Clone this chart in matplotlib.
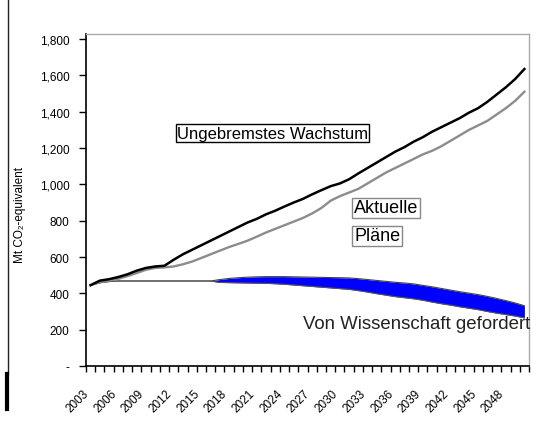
import numpy as np
import matplotlib
matplotlib.use('Agg')
import matplotlib.pyplot as plt
import matplotlib.transforms as mtransforms
from matplotlib.lines import Line2D

plt.rcParams['font.family'] = ['Liberation Sans', 'DejaVu Sans']

YEARS = list(range(2003, 2051))

# Ungebremstes Wachstum
WACHSTUM = [445, 470, 478, 490, 505, 525, 540, 548, 552, 585,
            615, 640, 665, 690, 715, 740, 765, 790, 810, 835,
            855, 878, 900, 920, 945, 968, 990, 1005, 1028, 1060,
            1090, 1120, 1150, 1180, 1205, 1235, 1260, 1290, 1315, 1340,
            1365, 1395, 1420, 1455, 1495, 1535, 1580, 1635]

# Aktuelle Plaene
PLAENE = [445, 462, 470, 480, 495, 512, 530, 540, 543, 548,
          560, 575, 595, 615, 635, 655, 672, 690, 712, 735,
          755, 775, 795, 815, 840, 870, 910, 935, 955, 975,
          1005, 1035, 1065, 1090, 1115, 1140, 1165, 1185, 1210, 1240,
          1270, 1300, 1325, 1350, 1385, 1420, 1460, 1510]

# Von Wissenschaft gefordert (upper / lower edge of band)
WISS_HIGH = [445, 458, 465, 468, 468, 468, 468, 468, 468, 468,
             468, 468, 468, 468, 476, 482, 486, 489, 491, 492,
             492, 492, 491, 490, 489, 488, 487, 486, 485, 481,
             476, 471, 466, 461, 457, 452, 444, 436, 427, 418,
             409, 401, 393, 383, 372, 360, 347, 332]
WISS_LOW = [445, 458, 465, 468, 468, 468, 468, 468, 468, 468,
            468, 468, 468, 468, 460, 459, 458, 457, 456, 455,
            453, 450, 446, 442, 438, 434, 430, 426, 422, 415,
            407, 398, 390, 382, 376, 370, 362, 352, 343, 335,
            326, 318, 310, 300, 291, 283, 275, 265]

Y_TICKS = [0, 200, 400, 600, 800, 1000, 1200, 1400, 1600, 1800]
Y_LABELS = ['-', '200', '400', '600', '800', '1,000', '1,200', '1,400', '1,600', '1,800']

NARROW = ['Liberation Sans Narrow', 'Liberation Sans', 'DejaVu Sans']

W, H = 536, 427
fig = plt.figure(figsize=(W / 100, H / 100), dpi=100)
ax = fig.add_axes([86 / W, 1 - 367 / H, (529 - 86) / W, (367 - 35) / H])

x = np.arange(len(YEARS))
ax.fill_between(x, WISS_LOW, WISS_HIGH, color='#0000ff', lw=0)
ax.plot(x, WISS_HIGH, color='#444444', lw=0.8)
ax.plot(x, WISS_LOW, color='#555555', lw=0.8)
ax.plot(x, PLAENE, color='#8c8c8c', lw=1.7)
ax.plot(x, WACHSTUM, color='#000000', lw=1.8)

ax.set_xlim(-0.5, len(YEARS) - 0.5)
ax.set_ylim(0, 1828)
ax.set_yticks(Y_TICKS)
ax.set_yticklabels(Y_LABELS, fontsize=8.5, family=NARROW)

ax.set_xticks(np.arange(len(YEARS) + 1) - 0.5, minor=True)
ax.set_xticks(x[::3])
ax.set_xticklabels([str(y) for y in YEARS[::3]], rotation=45, ha='right',
                   va='top', rotation_mode='anchor', fontsize=8.5, family=NARROW)
ax.tick_params(axis='x', which='major', length=0, pad=10)
ax.tick_params(axis='x', which='minor', length=4, width=1, direction='out')
ax.tick_params(axis='y', length=5, width=1, direction='out', pad=7)

shift = mtransforms.ScaledTranslation(-8 / 100, -7 / 100, fig.dpi_scale_trans)
for lbl in ax.get_xticklabels():
    lbl.set_transform(lbl.get_transform() + shift)

for side in ['left', 'bottom']:
    ax.spines[side].set_linewidth(1.2)
for side in ['top', 'right']:
    ax.spines[side].set_color('#aaaaaa')
    ax.spines[side].set_linewidth(1.0)

fig.text(20 / W, 1 - 215 / H, 'Mt CO\u2082-equivalent', fontsize=8.5,
         rotation=90, ha='center', va='center', family=NARROW)

fig.text(177 / W, 1 - 134 / H, 'Ungebremstes Wachstum', fontsize=12,
         va='center', ha='left',
         bbox=dict(boxstyle='square,pad=0.08', fc='white', ec='black', lw=1.0))
fig.text(354 / W, 1 - 209 / H, 'Aktuelle', fontsize=13, va='center', ha='left',
         bbox=dict(boxstyle='square,pad=0.1', fc='white', ec='#888888', lw=1.0))
fig.text(354 / W, 1 - 237 / H, 'Pl\u00e4ne', fontsize=13, va='center', ha='left',
         bbox=dict(boxstyle='square,pad=0.1', fc='white', ec='#888888', lw=1.0))
fig.text(530 / W, 1 - 325 / H, 'Von Wissenschaft gefordert', fontsize=13.4,
         va='center', ha='right', color='#222222')

fig.add_artist(Line2D([8 / W, 8 / W], [1 - 375 / H, 1.0], transform=fig.transFigure,
                      color='#222222', lw=1.0))
fig.add_artist(Line2D([7 / W, 7 / W], [1 - 410 / H, 1 - 375 / H], transform=fig.transFigure,
                      color='#000000', lw=3.0))

fig.savefig('out.png', dpi=100)
